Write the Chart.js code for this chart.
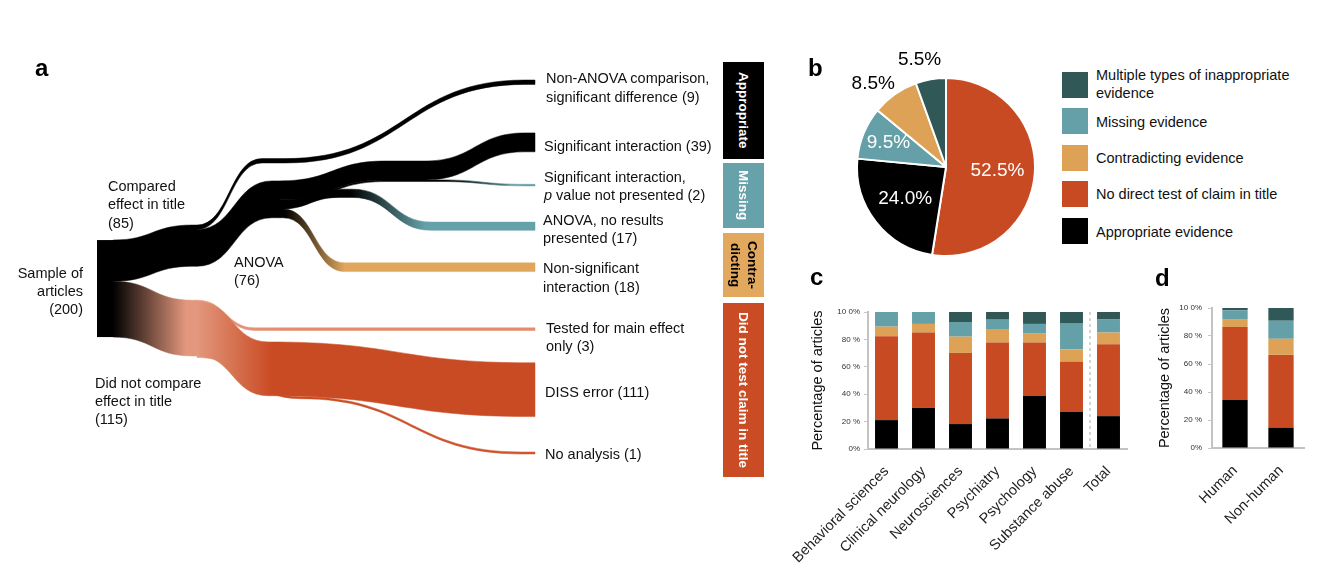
<!DOCTYPE html>
<html><head><meta charset="utf-8">
<script src="https://cdn.jsdelivr.net/npm/chart.js@4.4.1/dist/chart.umd.min.js"></script>
<style>
html,body{margin:0;padding:0;background:#fff;}
body{width:1344px;height:570px;position:relative;overflow:hidden;font-family:"Liberation Sans",Arial,sans-serif;color:#111;}
canvas{position:absolute;}
.lbl{position:absolute;font-size:14.5px;line-height:18.4px;white-space:nowrap;color:#111;}
.letter{position:absolute;font-weight:bold;font-size:24px;line-height:24px;color:#000;}
.box{position:absolute;writing-mode:vertical-rl;display:flex;align-items:center;justify-content:center;font-weight:bold;font-size:13.5px;line-height:17px;color:#fff;text-align:center;}
.sw{position:absolute;width:26px;height:26px;left:1062px;}
.lg{position:absolute;left:1096px;font-size:14.5px;line-height:17.3px;white-space:nowrap;color:#111;}
</style></head>
<body>
<canvas id="sankey" width="720" height="570" style="left:0;top:0;width:720px;height:570px"></canvas>
<canvas id="pie" width="260" height="230" style="left:800px;top:40px;width:260px;height:230px"></canvas>
<canvas id="barc" width="360" height="280" style="left:770px;top:290px;width:360px;height:280px"></canvas>
<canvas id="bard" width="200" height="280" style="left:1140px;top:290px;width:200px;height:280px"></canvas>

<div class="letter" style="left:35px;top:56px">a</div>
<div class="letter" style="left:808px;top:56px">b</div>
<div class="letter" style="left:810px;top:265px">c</div>
<div class="letter" style="left:1155px;top:266px">d</div>

<!-- Sankey labels -->
<div class="lbl" style="right:1261px;top:263.5px;text-align:right">Sample of<br>articles<br>(200)</div>
<div class="lbl" style="left:108px;top:176.8px">Compared<br>effect in title<br>(85)</div>
<div class="lbl" style="left:234px;top:252.5px">ANOVA<br>(76)</div>
<div class="lbl" style="left:95px;top:373.5px">Did not compare<br>effect in title<br>(115)</div>
<div class="lbl" style="left:546px;top:69.1px">Non-ANOVA comparison,<br>significant difference (9)</div>
<div class="lbl" style="left:544px;top:136.8px">Significant interaction (39)</div>
<div class="lbl" style="left:544px;top:167.5px">Significant interaction,<br><i>p</i> value not presented (2)</div>
<div class="lbl" style="left:543px;top:210.8px">ANOVA, no results<br>presented (17)</div>
<div class="lbl" style="left:543px;top:259.1px">Non-significant<br>interaction (18)</div>
<div class="lbl" style="left:546px;top:318.5px">Tested for main effect<br>only (3)</div>
<div class="lbl" style="left:545px;top:382.5px">DISS error (111)</div>
<div class="lbl" style="left:545px;top:444.8px">No analysis (1)</div>

<div class="box" style="left:723px;top:62px;width:41px;height:97px;background:#000">Appropriate</div>
<div class="box" style="left:723px;top:163px;width:41px;height:65px;background:#67a1a9">Missing</div>
<div class="box" style="left:723px;top:233px;width:41px;height:64px;background:#e2a85e;color:#000"><span>Contra-<br>dicting</span></div>
<div class="box" style="left:723px;top:303px;width:41px;height:174px;background:#c94c24">Did not test claim in title</div>

<!-- legend -->
<div class="sw" style="top:72px;background:#305856"></div>
<div class="sw" style="top:108px;background:#65a0a8"></div>
<div class="sw" style="top:145px;background:#dea257"></div>
<div class="sw" style="top:181px;background:#c84a22"></div>
<div class="sw" style="top:218px;background:#000"></div>
<div class="lg" style="top:67.4px">Multiple types of inappropriate<br>evidence</div>
<div class="lg" style="top:114px">Missing evidence</div>
<div class="lg" style="top:150px">Contradicting evidence</div>
<div class="lg" style="top:186px">No direct test of claim in title</div>
<div class="lg" style="top:224px">Appropriate evidence</div>

<script>
// ---------------- DATA ----------------
// Panel a: flow diagram
const sankeyNodeLabels = ['Sample of articles','Compared effect in title','Did not compare effect in title','ANOVA',
  'Non-ANOVA comparison, significant difference','Significant interaction','Significant interaction, p value not presented',
  'ANOVA, no results presented','Non-significant interaction','Tested for main effect only','DISS error','No analysis'];
const sankeyNodeValues = [200, 85, 115, 76, 9, 39, 2, 17, 18, 3, 111, 1];
const linkSource = [0, 0, 1, 1, 3, 3, 3, 3, 2, 2, 2];
const linkTarget = [1, 2, 4, 3, 5, 6, 7, 8, 9, 10, 11];
const linkValue  = [85, 115, 9, 76, 39, 2, 17, 18, 3, 111, 1];

// Panel b: pie (clockwise from 12 o'clock)
const pieLabels = ['No direct test of claim in title','Appropriate evidence','Missing evidence','Contradicting evidence','Multiple types of inappropriate evidence'];
const pieValues = [52.5, 24.0, 9.5, 8.5, 5.5];

// Panel c
const fieldCategories = ['Behavioral sciences','Clinical neurology','Neurosciences','Psychiatry','Psychology','Substance abuse','Total'];
const appropriateC = [21.1, 30.1, 18.2, 22.3, 38.6, 27.2, 24.0];
const noTestC      = [61.2, 54.9, 51.9, 55.4, 39.1, 36.4, 52.5];
const contraC      = [7.0, 6.3, 11.9, 9.9, 6.5, 9.2, 8.5];
const missingC     = [10.7, 8.7, 10.7, 6.8, 7.1, 18.7, 9.5];
const multipleC    = [0, 0, 7.3, 5.6, 8.7, 8.5, 5.5];

// Panel d
const subjectCategories = ['Human','Non-human'];
const appropriateD = [34.2, 14.6];
const noTestD      = [52.2, 51.9];
const contraD      = [5.7, 11.5];
const missingD     = [6.2, 12.9];
const multipleD    = [1.7, 9.1];

const yTickLabels = ['0%','20 %','40 %','60 %','80 %','10 0%'];

// ---------------- STYLE / LAYOUT ----------------
const C_BLACK='#000000', C_RED='#c84a22', C_TAN='#dea257', C_TEAL='#65a0a8', C_DARK='#305856';
Chart.defaults.font.family = '"Liberation Sans", Arial, sans-serif';

// node column x (pixel units of the x scale) and node tops (article units of the y scale)
const nodeX   = [97, 197, 197, 280, 535, 535, 535, 535, 535, 535, 535, 535];
const nodeW   = [16, 0, 0, 0, 0, 0, 0, 0, 0, 0, 0, 0];
const nodeTop = [495, 464, 619, 373, 165, 274, 380, 458, 542, 676, 748, 932];
const SAL = '#e3977d';
const linkLayout = [
  {c0:113, c1:192, grad:[[0,C_BLACK]]},
  {c0:113, c1:192, grad:[[113,C_BLACK],[186,SAL]]},
  {c0:197, c1:525, vias:[{x0:262,x1:285,top:327}], grad:[[0,C_BLACK]]},
  {c0:197, c1:272, grad:[[0,C_BLACK]]},
  {c0:280, c1:525, vias:[{x0:385,x1:425,top:332}], grad:[[0,C_BLACK]]},
  {c0:280, c1:525, vias:[{x0:385,x1:440,top:371}], grad:[[445,C_BLACK],[520,'#62a0a8']], minPx:1.6},
  {c0:280, c1:432, vias:[{x0:340,x1:352,top:390}], grad:[[350,C_BLACK],[425,'#64a1a9']]},
  {c0:283, c1:345, grad:[[285,C_BLACK],[345,'#e0a75c']]},
  {c0:197, c1:255, grad:[[197,SAL],[300,'#e38b6b']], minPx:2.6},
  {c0:197, c1:530, vias:[{x0:268,x1:268,top:705}], grad:[[197,SAL],[272,'#c94b23']]},
  {c0:197, c1:522, vias:[{x0:300,x1:300,top:818}], grad:[[197,SAL],[272,'#c94b23'],[535,'#d0552b']], minPx:2}
];

const sankeyPlugin = {
  id:'sankeyRibbons',
  afterDatasetsDraw(chart){
    const {ctx, scales:{x, y}} = chart;
    const X = v => x.getPixelForValue(v), Y = v => y.getPixelForValue(v);
    const unit = Math.abs(Y(1) - Y(0));
    const outOff = sankeyNodeValues.map(() => 0), inOff = sankeyNodeValues.map(() => 0);
    ctx.save();
    linkValue.forEach((val, i) => {
      const s = linkSource[i], t = linkTarget[i], L = linkLayout[i];
      const sTop = nodeTop[s] + outOff[s]; outOff[s] += val;
      const tTop = nodeTop[t] + inOff[t]; inOff[t] += val;
      const th = Math.max(val * unit, L.minPx || 0);
      const st = [{a:X(nodeX[s] + nodeW[s]), b:X(L.c0), t:Y(sTop)}];
      (L.vias || []).forEach(v => st.push({a:X(v.x0), b:X(v.x1), t:Y(v.top)}));
      st.push({a:X(L.c1), b:X(nodeX[t]), t:Y(tTop)});
      ctx.beginPath();
      ctx.moveTo(st[0].a, st[0].t);
      st.forEach((p, k) => {
        if (k > 0) { const q = st[k-1]; const m = (q.b + p.a) / 2; ctx.bezierCurveTo(m, q.t, m, p.t, p.a, p.t); }
        ctx.lineTo(p.b, p.t);
      });
      for (let k = st.length - 1; k >= 0; k--) {
        const p = st[k];
        ctx.lineTo(p.b, p.t + th); ctx.lineTo(p.a, p.t + th);
        if (k > 0) { const q = st[k-1]; const m = (q.b + p.a) / 2; ctx.bezierCurveTo(m, p.t + th, m, q.t + th, q.b, q.t + th); }
      }
      ctx.closePath();
      let fill;
      if (L.grad.length === 1) fill = L.grad[0][1];
      else {
        const gx0 = X(L.grad[0][0]), gx1 = X(L.grad[L.grad.length-1][0]);
        const g = ctx.createLinearGradient(gx0, 0, gx1, 0);
        L.grad.forEach(([gx, c]) => g.addColorStop((X(gx) - gx0) / (gx1 - gx0), c));
        fill = g;
      }
      ctx.fillStyle = fill; ctx.strokeStyle = fill; ctx.lineWidth = 0.5;
      ctx.fill(); ctx.stroke();
    });
    ctx.fillStyle = C_BLACK;
    ctx.fillRect(X(nodeX[0]), Y(nodeTop[0]), X(nodeX[0] + nodeW[0]) - X(nodeX[0]), sankeyNodeValues[0] * unit);
    ctx.restore();
  }
};

new Chart(document.getElementById('sankey'), {
  type:'scatter',
  data:{datasets:[{label:'flows', data:[]}]},
  options:{responsive:false, animation:false, events:[], layout:{padding:0},
    plugins:{legend:{display:false}, tooltip:{enabled:false}},
    scales:{x:{type:'linear', min:0, max:720, display:false},
            y:{type:'linear', min:0, max:1175.3, reverse:true, display:false}}},
  plugins:[sankeyPlugin]
});

// ---------------- PIE ----------------
const pieLabelPlugin = {
  id:'pieLabels',
  afterDatasetsDraw(chart){
    const {ctx} = chart;
    const meta = chart.getDatasetMeta(0);
    ctx.save();
    ctx.font = '19px "Liberation Sans", Arial, sans-serif';
    ctx.textAlign = 'center'; ctx.textBaseline = 'middle';
    meta.data.forEach((arc, i) => {
      const v = pieValues[i];
      const inside = v > 9;
      let a, r;
      if (inside) {
        a = (arc.startAngle + arc.endAngle) / 2;
        r = arc.outerRadius * (v > 20 ? 0.58 : 0.7);
      } else {
        a = arc.startAngle + 0.3 * (arc.endAngle - arc.startAngle);
        r = arc.outerRadius * 1.24;
      }
      ctx.fillStyle = inside ? '#ffffff' : '#000000';
      ctx.fillText(v.toFixed(1) + '%', arc.x + Math.cos(a) * r, arc.y + Math.sin(a) * r);
    });
    ctx.restore();
  }
};
new Chart(document.getElementById('pie'), {
  type:'pie',
  data:{labels:pieLabels, datasets:[{data:pieValues, backgroundColor:[C_RED, C_BLACK, C_TEAL, C_TAN, C_DARK], borderColor:'#ffffff', borderWidth:2}]},
  options:{responsive:false, animation:false, events:[],
    layout:{padding:{left:56, right:24, top:37, bottom:13}},
    plugins:{legend:{display:false}, tooltip:{enabled:false}}},
  plugins:[pieLabelPlugin]
});

// ---------------- BARS ----------------
function stackedBar(id, labels, s, o, extraPlugins){
  return new Chart(document.getElementById(id), {
    type:'bar',
    data:{labels, datasets:[
      {label:'Appropriate evidence', data:s[0], backgroundColor:C_BLACK},
      {label:'No direct test of claim in title', data:s[1], backgroundColor:C_RED},
      {label:'Contradicting evidence', data:s[2], backgroundColor:C_TAN},
      {label:'Missing evidence', data:s[3], backgroundColor:C_TEAL},
      {label:'Multiple types of inappropriate evidence', data:s[4], backgroundColor:C_DARK}
    ]},
    options:{responsive:false, animation:false, events:[],
      datasets:{bar:{categoryPercentage:1, barPercentage:o.bp, borderWidth:0}},
      layout:{padding:{left:0, top:o.pt, right:o.pr, bottom:0}},
      plugins:{legend:{display:false}, tooltip:{enabled:false}},
      scales:{
        x:{stacked:true, grid:{display:false}, border:{display:true, color:'#c3c3c3', width:2},
           ticks:{autoSkip:false, minRotation:45, maxRotation:45, padding:o.xpad, color:'#222', font:{size:14.5}},
           afterFit:sc => { sc.height = o.xh; }},
        y:{stacked:true, min:0, max:100,
           grid:{display:true, drawOnChartArea:false, drawTicks:true, tickLength:4, color:'#c8c8c8'},
           border:{display:true, color:'#c3c3c3', width:2},
           ticks:{stepSize:20, padding:o.tpad, color:'#333', font:{size:8}, callback:(v, i) => yTickLabels[i]},
           title:{display:true, text:'Percentage of articles', color:'#111', font:{size:14.5}, padding:{top:o.titlePad, bottom:0}},
           afterFit:sc => { sc.width = o.yw; }}
      }},
    plugins:extraPlugins || []
  });
}
const dividerPlugin = {
  id:'totalDivider',
  afterDatasetsDraw(chart){
    const {ctx, chartArea, scales:{x}} = chart;
    const px = (x.getPixelForValue(fieldCategories.length - 2) + x.getPixelForValue(fieldCategories.length - 1)) / 2;
    ctx.save(); ctx.strokeStyle = '#aaaaaa'; ctx.lineWidth = 1; ctx.setLineDash([3, 3]);
    ctx.beginPath(); ctx.moveTo(px, chartArea.top); ctx.lineTo(px, chartArea.bottom); ctx.stroke(); ctx.restore();
  }
};
stackedBar('barc', fieldCategories, [appropriateC, noTestC, contraC, missingC, multipleC],
  {bp:0.62, pt:22, pr:3, xh:121, yw:98, xpad:6, tpad:4, titlePad:39}, [dividerPlugin]);
stackedBar('bard', subjectCategories, [appropriateD, noTestD, contraD, missingD, multipleD],
  {bp:0.55, pt:18, pr:36, xh:122, yw:72, xpad:6, tpad:6, titlePad:16});
</script>
</body></html>
